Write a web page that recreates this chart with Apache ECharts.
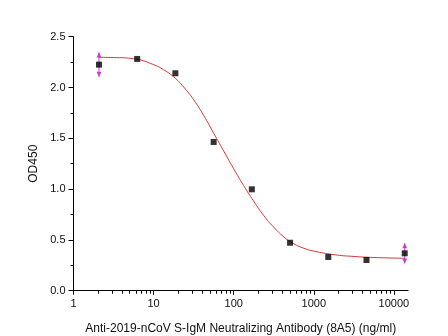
<!DOCTYPE html>
<html>
<head>
<meta charset="utf-8">
<script src="https://cdn.jsdelivr.net/npm/echarts@6/dist/echarts.min.js"></script>
<style>
html,body{margin:0;padding:0;background:#fff;}
#chart{width:448px;height:336px;}
</style>
</head>
<body>
<div id="chart"></div>
<script>
// Measured points (concentration in ng/ml, OD450)
const concentrations = [2.08, 6.24, 18.7, 56.2, 168.5, 505.6, 1517, 4550, 13650];
const od450 = [2.225, 2.281, 2.140, 1.464, 0.998, 0.472, 0.332, 0.302, 0.368];

// Error bars (only visible ones)
const errorX = [2.08, 13650];
const errorLow = [2.105, 0.268];
const errorHigh = [2.345, 0.468];

// Fitted curve
const fitX = [2.08, 3.16, 5.62, 10, 13.3, 17.8, 23.7, 31.6, 42.2, 56.2, 75, 100, 133, 178, 237, 316, 422, 562, 750, 1000, 1778, 3162, 5623, 10000, 13650];
const fitY = [2.297, 2.295, 2.283, 2.225, 2.175, 2.105, 2.005, 1.88, 1.725, 1.55, 1.375, 1.20, 1.035, 0.88, 0.74, 0.625, 0.53, 0.462, 0.418, 0.39, 0.355, 0.337, 0.327, 0.321, 0.319];

// Axis settings
const xMin = 1, xMax = 15000;
const yMin = 0, yMax = 2.5, yStep = 0.5;
const minorTickValues = [];
[1, 10, 100, 1000, 10000].forEach(function (d) {
  [2, 3, 4, 5, 6, 7, 8, 9].forEach(function (m) {
    if (d * m < xMax) minorTickValues.push(d * m);
  });
});

const FONT = 'Liberation Sans, Arial, sans-serif';
const chart = echarts.init(document.getElementById('chart'), null, {renderer: 'canvas'});

const option = {
  animation: false,
  backgroundColor: '#fff',
  grid: {left: 73.5, right: 40, top: 36.7, bottom: 45.3, containLabel: false, outerBoundsMode: 'none'},
  xAxis: {
    type: 'log',
    logBase: 10,
    min: xMin,
    max: xMax,
    name: 'Anti-2019-nCoV S-IgM Neutralizing Antibody (8A5) (ng/ml)',
    nameLocation: 'middle',
    nameGap: 32,
    nameTextStyle: {fontFamily: FONT, fontSize: 12, color: '#111'},
    axisLine: {show: true, lineStyle: {color: '#000', width: 1}},
    axisTick: {show: true, inside: false, length: 4, lineStyle: {color: '#000'}},
    axisLabel: {fontFamily: FONT, fontSize: 11, color: '#111', margin: 8,
      formatter: function (v) { return String(Math.round(v)); }},
    splitLine: {show: false}
  },
  yAxis: {
    type: 'value',
    min: yMin,
    max: yMax,
    interval: yStep,
    name: 'OD450',
    nameLocation: 'middle',
    nameGap: 23,
    nameTextStyle: {fontFamily: FONT, fontSize: 12, color: '#111'},
    axisLine: {show: true, lineStyle: {color: '#000', width: 1}},
    axisTick: {show: true, length: 5, lineStyle: {color: '#000'}},
    minorTick: {show: true, splitNumber: 2, length: 3, lineStyle: {color: '#000'}},
    axisLabel: {fontFamily: FONT, fontSize: 11, color: '#111', margin: 8,
      formatter: function (v) { return v.toFixed(1); }},
    splitLine: {show: false}
  },
  series: [
    {
      type: 'custom',
      name: 'minorTicks',
      clip: false,
      silent: true,
      data: minorTickValues.map(function (v) { return [v, 0]; }),
      renderItem: function (params, api) {
        const p = api.coord([api.value(0), 0]);
        return {type: 'line', shape: {x1: Math.round(p[0]) + 0.5, y1: p[1], x2: Math.round(p[0]) + 0.5, y2: p[1] + 3},
          style: {stroke: '#000', lineWidth: 1}};
      },
      z: 1
    },
    {
      type: 'line',
      name: 'fit',
      data: fitX.map(function (x, i) { return [x, fitY[i]]; }),
      smooth: 0.5,
      showSymbol: false,
      symbol: 'none',
      lineStyle: {color: '#d03838', width: 1},
      z: 2
    },
    {
      type: 'custom',
      name: 'errors',
      clip: false,
      silent: true,
      data: errorX.map(function (x, i) { return [x, errorLow[i], errorHigh[i]]; }),
      renderItem: function (params, api) {
        const top = api.coord([api.value(0), api.value(2)]);
        const bot = api.coord([api.value(0), api.value(1)]);
        const c = '#c83cc8';
        const x = top[0];
        return {type: 'group', children: [
          {type: 'line', shape: {x1: x, y1: top[1], x2: x, y2: bot[1]}, style: {stroke: c, lineWidth: 1}},
          {type: 'polygon', shape: {points: [[x, top[1]], [x - 2.5, top[1] + 5], [x + 2.5, top[1] + 5]]}, style: {fill: c}},
          {type: 'polygon', shape: {points: [[x, bot[1]], [x - 2.5, bot[1] - 5], [x + 2.5, bot[1] - 5]]}, style: {fill: c}}
        ]};
      },
      z: 3
    },
    {
      type: 'scatter',
      name: 'data',
      data: concentrations.map(function (x, i) { return [x, od450[i]]; }),
      symbol: 'rect',
      symbolSize: 6,
      itemStyle: {color: '#000'},
      z: 4
    }
  ]
};
chart.setOption(option);
</script>
</body>
</html>
